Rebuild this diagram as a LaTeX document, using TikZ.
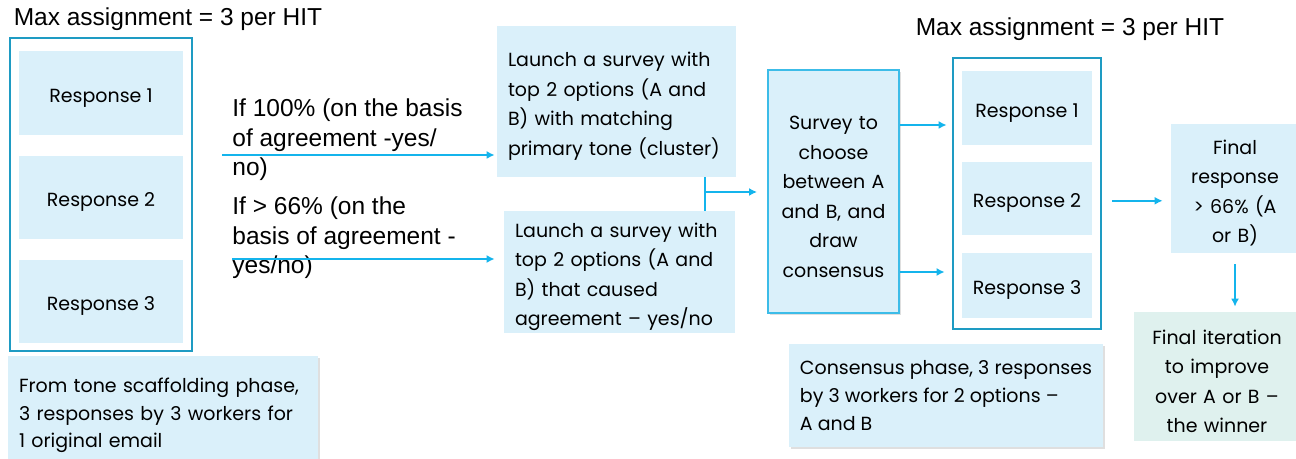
\documentclass[tikz,border=0pt]{standalone}
\usepackage{fontspec}
\setmainfont{Poppins}
\newfontfamily\arialfont{Liberation Sans}
\usepackage{xcolor}
\usetikzlibrary{positioning}
\usetikzlibrary{fit}
\usetikzlibrary{arrows.meta}
\usetikzlibrary{shadows}
\definecolor{boxblue}{HTML}{DAF0FA}
\definecolor{boxgreen}{HTML}{DFF1EE}
\definecolor{frameteal}{HTML}{1E9BC3}
\definecolor{edgecyan}{HTML}{3CBCE8}
\definecolor{flowblue}{HTML}{14B4EC}
\tikzset{
  gothic/.style={font=\fontsize{9.5pt}{14.75pt}\selectfont,
    execute at begin node={\rule{0pt}{12pt}}},
  title/.style={font=\arialfont\fontsize{12.25pt}{14.75pt}\selectfont, inner sep=0pt},
  cond/.style={title, anchor=west, align=left},
  resp/.style={gothic, fill=boxblue, inner sep=0pt},
  frame/.style={draw=frameteal, line width=1pt},
  survey/.style={gothic, fill=boxblue, align=left, inner xsep=5.5pt, inner ysep=0pt},
  note/.style={survey, font=\fontsize{9.5pt}{14pt}\selectfont,
    drop shadow={shadow xshift=1pt, shadow yshift=-1pt, opacity=0.25}},
  flow/.style={draw=flowblue, line width=0.75pt, -{Latex[length=4pt, width=4pt]}},
  link/.style={draw=flowblue, line width=0.75pt},
}

\begin{document}
\begin{tikzpicture}[x=0.5pt, y=-0.5pt]
  \useasboundingbox (0,0) rectangle (1296,459);

  % Define nodes
  \node[title] (hit_l) at (168,19) {Max assignment = 3 per HIT};
  \node[title] (hit_r) at (1070,29) {Max assignment = 3 per HIT};

  \node[resp, minimum width=82pt, minimum height=42pt] (resp_l1) at (101,93) {Response 1};
  \node[resp, minimum width=82pt, minimum height=41.5pt, below=10pt of resp_l1] (resp_l2) {Response 2};
  \node[resp, minimum width=82pt, minimum height=41.5pt, below=10pt of resp_l2] (resp_l3) {Response 3};
  \node[frame, fit=(resp_l1)(resp_l3), inner xsep=4.5pt, inner ysep=5.25pt, yshift=1.25pt] (frame_l) {};

  \node[note, font=\fontsize{9.5pt}{13.75pt}\selectfont, minimum width=155pt, minimum height=55pt,
    text width=144pt] (scaffold) at (163,411)
    {From tone scaffolding phase,\\3 responses by 3 workers for\\1 original email};

  \node[cond] (cond_full) at (232,140) {If 100\% (on the basis\\of agreement -yes/\\no)};
  \node[cond] (cond_part) at (232,238) {If > 66\% (on the\\basis of agreement -\\yes/no)};

  \node[survey, minimum height=75.5pt, text width=108.5pt] (survey_a) at (616.5,101.5)
    {Launch a survey with\\top 2 options (A and\\B) with matching\\primary tone (cluster)};
  \node[survey, minimum height=61pt, text width=104.5pt] (survey_b) at (619.5,272)
    {Launch a survey with\\top 2 options (A and\\B) that caused\\agreement -- yes/no};

  \node[gothic, fill=boxblue, draw=edgecyan, line width=1pt, align=center, inner sep=0pt,
    text width=65.5pt, minimum height=121.5pt,
    drop shadow={shadow xshift=1pt, shadow yshift=-1pt, opacity=0.25}] (choose) at (833.5,191.5)
    {Survey to\\choose\\between A\\and B, and\\draw\\consensus};

  \node[resp, minimum width=65pt, minimum height=37pt] (resp_r1) at (1027,108) {Response 1};
  \node[resp, minimum width=65pt, minimum height=36.5pt, below=8pt of resp_r1] (resp_r2) {Response 2};
  \node[resp, minimum width=65pt, minimum height=32.5pt, below=8.5pt of resp_r2] (resp_r3) {Response 3};
  \node[frame, fit=(resp_r1)(resp_r3), inner xsep=4.5pt, inner ysep=6pt, yshift=0.5pt] (frame_r) {};

  \node[note, minimum width=154pt, minimum height=51.5pt] (consensus) at (946,395.5)
    {Consensus phase, 3 responses\\by 3 workers for 2 options --\\A and B};

  \node[resp, align=center, text width=64pt, minimum height=64.5pt] (final) at (1235,188.5)
    {Final\\response\\> 66\% (A\\or B)};
  \node[resp, fill=boxgreen, align=center, text width=83pt, minimum height=64.5pt] (iterate) at (1217,376.5)
    {Final iteration\\to improve\\over A or B --\\the winner};

  \coordinate (full_in) at (222,155);
  \coordinate (part_in) at (232,259);
  \coordinate (merge) at (705,192);

  % Connect nodes
  \draw[flow, shorten >=1pt] (full_in) -- (full_in -| survey_a.west);
  \draw[flow, shorten >=4.5pt] (part_in) -- (part_in -| survey_b.west);
  \draw[link] (merge |- survey_a.south) -- (merge |- survey_b.north);
  \draw[flow, shorten >=5pt] (merge) -- (merge -| choose.west);

  \draw[flow, shorten >=2.5pt] ([yshift=33.25pt]choose.east) -- ([yshift=33.25pt]choose.east -| frame_r.west);
  \draw[flow, shorten >=3.5pt] ([yshift=-40.25pt]choose.east) -- ([yshift=-40.25pt]choose.east -| frame_r.west);

  \draw[flow, shorten <=5pt, shorten >=4pt] ([yshift=-3.75pt]frame_r.east) -- ([yshift=-3.75pt]frame_r.east -| final.west);
  \draw[flow, shorten <=5.5pt, shorten >=2.5pt] (final.south) -- (final.south |- iterate.north);

\end{tikzpicture}
\end{document}
